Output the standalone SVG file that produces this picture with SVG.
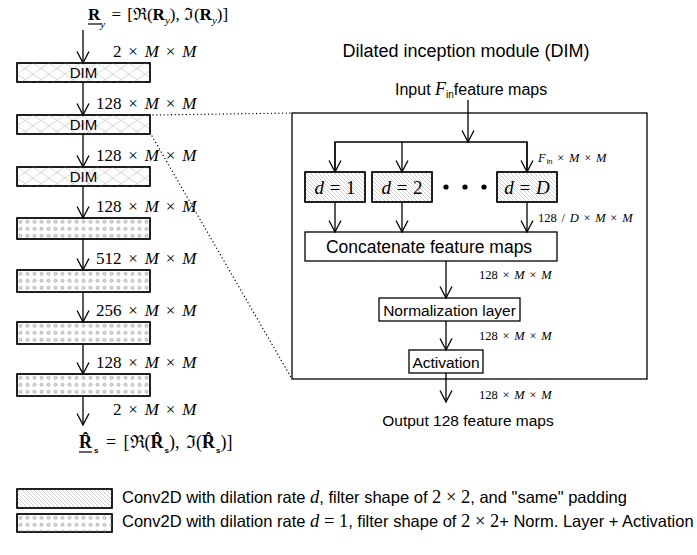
<svg xmlns="http://www.w3.org/2000/svg" width="697" height="555" viewBox="0 0 697 555">
<style>
.box{stroke:#000;stroke-width:1.3}
.sans{font-family:"Liberation Sans",Arial,sans-serif;fill:#000}
.ser{font-family:"Liberation Serif","DejaVu Serif",serif;fill:#000}
.it{font-style:italic}
.bf{font-weight:bold}
.conn{stroke:#000;stroke-width:1.3;fill:none}
.dot{stroke:#000;stroke-width:1.3;stroke-dasharray:0.1 3.6;stroke-linecap:round;fill:none}
.lab{font-size:17px;word-spacing:2.6px}
.slab{font-size:12.5px;word-spacing:1.6px}
</style>
<defs>
<pattern id="cross" patternUnits="userSpaceOnUse" width="16" height="11">
<path d="M0,0 L16,11 M0,11 L16,0" stroke="#c4c4c4" stroke-width="0.7" fill="none"/>
</pattern>
<pattern id="hatch" patternUnits="userSpaceOnUse" width="4" height="4">
<path d="M-1,-1 L5,5 M-1,3 L1,5 M3,-1 L5,1" stroke="#b0b0b0" stroke-width="0.6" fill="none"/>
</pattern>
<pattern id="dots" patternUnits="userSpaceOnUse" width="7" height="7" x="0" y="0">
<circle cx="3.5" cy="3.8" r="1.5" fill="#e0e0e0" stroke="#9a9a9a" stroke-width="0.7"/>
</pattern>
<marker id="arr" markerUnits="userSpaceOnUse" markerWidth="12" markerHeight="12" orient="auto" overflow="visible">
<path d="M-11.5,-6 Q-3,-1.5 0,0 Q-3,1.5 -11.5,6" fill="none" stroke="#000" stroke-width="1.3"/>
</marker>
</defs>

<!-- top formula -->
<g id="formula-in">
<text class="ser" x="88" y="20" font-size="17"><tspan class="bf">R</tspan><tspan class="it" font-size="11" dy="8">y</tspan><tspan dy="-8" word-spacing="2"> = [ℜ(</tspan><tspan class="bf">R</tspan><tspan class="it" font-size="11" dy="4">y</tspan><tspan dy="-4">), ℑ(</tspan><tspan class="bf">R</tspan><tspan class="it" font-size="11" dy="4">y</tspan><tspan dy="-4">)]</tspan></text>
<line x1="88" y1="24" x2="101" y2="24" stroke="#000" stroke-width="1.2"/>
</g>

<!-- left column nodes -->
<g id="dim1" transform="translate(17,63)">
<rect class="box" width="133" height="19" fill="#fff"/><rect width="133" height="19" fill="url(#cross)"/><rect class="box" width="133" height="19" fill="none"/>
<text class="sans" x="66.5" y="15" font-size="15" text-anchor="middle">DIM</text>
</g>
<g id="dim2" transform="translate(17,115)">
<rect class="box" width="133" height="19" fill="#fff"/><rect width="133" height="19" fill="url(#cross)"/><rect class="box" width="133" height="19" fill="none"/>
<text class="sans" x="66.5" y="15" font-size="15" text-anchor="middle">DIM</text>
</g>
<g id="dim3" transform="translate(17,167)">
<rect class="box" width="133" height="19" fill="#fff"/><rect width="133" height="19" fill="url(#cross)"/><rect class="box" width="133" height="19" fill="none"/>
<text class="sans" x="66.5" y="15" font-size="15" text-anchor="middle">DIM</text>
</g>
<g id="conv4" transform="translate(17,218)">
<rect class="box" width="133" height="21" fill="#fff"/><rect width="133" height="21" fill="url(#dots)"/><rect class="box" width="133" height="21" fill="none"/>
</g>
<g id="conv5" transform="translate(17,270)">
<rect class="box" width="133" height="22" fill="#fff"/><rect width="133" height="22" fill="url(#dots)"/><rect class="box" width="133" height="22" fill="none"/>
</g>
<g id="conv6" transform="translate(17,322)">
<rect class="box" width="133" height="22" fill="#fff"/><rect width="133" height="22" fill="url(#dots)"/><rect class="box" width="133" height="22" fill="none"/>
</g>
<g id="conv7" transform="translate(17,374)">
<rect class="box" width="133" height="22" fill="#fff"/><rect width="133" height="22" fill="url(#dots)"/><rect class="box" width="133" height="22" fill="none"/>
</g>

<!-- bottom formula -->
<g id="formula-out">
<text class="ser" x="79" y="448" font-size="18"><tspan class="bf">R̂</tspan><tspan class="sans bf" font-size="8" dx="2" dy="5">s</tspan><tspan dy="-5" word-spacing="3"> = [ℜ(</tspan><tspan class="bf">R̂</tspan><tspan class="sans bf" font-size="8" dx="1" dy="5">s</tspan><tspan dy="-5" word-spacing="2">), ℑ(</tspan><tspan class="bf">R̂</tspan><tspan class="sans bf" font-size="8" dx="1" dy="5">s</tspan><tspan dy="-5">)]</tspan></text>
<line x1="79" y1="452" x2="92" y2="452" stroke="#000" stroke-width="1.2"/>
</g>

<!-- DIM detail -->
<g id="title"><text class="sans" x="466" y="57" font-size="18" text-anchor="middle">Dilated inception module (DIM)</text></g>
<g id="input"><text class="sans" x="395" y="95" font-size="16">Input <tspan class="ser it" font-size="18">F</tspan><tspan font-size="10" dy="3">in</tspan><tspan dy="-3">feature maps</tspan></text></g>
<g id="dim-frame"><rect class="box" x="292" y="113" width="355" height="266" fill="none"/></g>

<g id="d1" transform="translate(305,172)">
<rect class="box" width="60" height="30" fill="#fff"/><rect width="60" height="30" fill="url(#hatch)"/><rect class="box" width="60" height="30" fill="none"/>
<text class="ser" x="30" y="21.5" font-size="19" word-spacing="1" text-anchor="middle"><tspan class="it">d</tspan> = 1</text>
</g>
<g id="d2" transform="translate(372,172)">
<rect class="box" width="60" height="30" fill="#fff"/><rect width="60" height="30" fill="url(#hatch)"/><rect class="box" width="60" height="30" fill="none"/>
<text class="ser" x="30" y="21.5" font-size="19" word-spacing="1" text-anchor="middle"><tspan class="it">d</tspan> = 2</text>
</g>
<g id="ellipsis">
<circle cx="446" cy="187" r="2.6" fill="#000"/><circle cx="465" cy="187" r="2.6" fill="#000"/><circle cx="484" cy="187" r="2.6" fill="#000"/>
</g>
<g id="dD" transform="translate(497,172)">
<rect class="box" width="60" height="30" fill="#fff"/><rect width="60" height="30" fill="url(#hatch)"/><rect class="box" width="60" height="30" fill="none"/>
<text class="ser" x="30" y="21.5" font-size="19" word-spacing="1" text-anchor="middle"><tspan class="it">d</tspan> = <tspan class="it">D</tspan></text>
</g>
<g id="concat">
<rect class="box" x="305" y="232" width="252" height="29" fill="#fff"/>
<text class="sans" x="429" y="252.5" font-size="17.5" text-anchor="middle">Concatenate feature maps</text>
</g>
<g id="norm">
<rect class="box" x="379" y="298" width="141" height="23" fill="#fff"/>
<text class="sans" x="449.5" y="315.5" font-size="15.5" text-anchor="middle">Normalization layer</text>
</g>
<g id="act">
<rect class="box" x="409" y="350" width="74" height="23" fill="#fff"/>
<text class="sans" x="446" y="367.5" font-size="15.5" text-anchor="middle">Activation</text>
</g>
<g id="output"><text class="sans" x="468" y="426" font-size="15.5" text-anchor="middle">Output 128 feature maps</text></g>

<!-- connectors -->
<g id="connectors">
<line class="conn" x1="83" y1="30" x2="83" y2="63" marker-end="url(#arr)"/>
<line class="conn" x1="83" y1="82" x2="83" y2="115" marker-end="url(#arr)"/>
<line class="conn" x1="83" y1="134" x2="83" y2="167" marker-end="url(#arr)"/>
<line class="conn" x1="83" y1="186" x2="83" y2="218" marker-end="url(#arr)"/>
<line class="conn" x1="83" y1="239" x2="83" y2="270" marker-end="url(#arr)"/>
<line class="conn" x1="83" y1="292" x2="83" y2="322" marker-end="url(#arr)"/>
<line class="conn" x1="83" y1="344" x2="83" y2="374" marker-end="url(#arr)"/>
<line class="conn" x1="83" y1="396" x2="83" y2="425" marker-end="url(#arr)"/>
<line class="dot" x1="153" y1="115" x2="292" y2="113"/>
<line class="dot" x1="152" y1="136" x2="292" y2="379"/>
<line class="conn" x1="468" y1="100" x2="468" y2="142" marker-end="url(#arr)"/>
<polyline class="conn" points="335,172 335,142 527,142 527,172"/>
<line class="conn" x1="335" y1="142" x2="335" y2="172" marker-end="url(#arr)"/>
<line class="conn" x1="402" y1="142" x2="402" y2="172" marker-end="url(#arr)"/>
<line class="conn" x1="527" y1="142" x2="527" y2="172" marker-end="url(#arr)"/>
<line class="conn" x1="335" y1="202" x2="335" y2="232" marker-end="url(#arr)"/>
<line class="conn" x1="402" y1="202" x2="402" y2="232" marker-end="url(#arr)"/>
<line class="conn" x1="527" y1="202" x2="527" y2="232" marker-end="url(#arr)"/>
<line class="conn" x1="446" y1="261" x2="446" y2="298" marker-end="url(#arr)"/>
<line class="conn" x1="446" y1="321" x2="446" y2="350" marker-end="url(#arr)"/>
<line class="conn" x1="446" y1="373" x2="446" y2="402" marker-end="url(#arr)"/>
</g>

<!-- connector labels -->
<g id="labels">
<text class="ser lab" x="113" y="57">2 × <tspan class="it">M</tspan> × <tspan class="it">M</tspan></text>
<text class="ser lab" x="96" y="109">128 × <tspan class="it">M</tspan> × <tspan class="it">M</tspan></text>
<text class="ser lab" x="96" y="161">128 × <tspan class="it">M</tspan> × <tspan class="it">M</tspan></text>
<text class="ser lab" x="96" y="212">128 × <tspan class="it">M</tspan> × <tspan class="it">M</tspan></text>
<text class="ser lab" x="96" y="264">512 × <tspan class="it">M</tspan> × <tspan class="it">M</tspan></text>
<text class="ser lab" x="96" y="316">256 × <tspan class="it">M</tspan> × <tspan class="it">M</tspan></text>
<text class="ser lab" x="96" y="368">128 × <tspan class="it">M</tspan> × <tspan class="it">M</tspan></text>
<text class="ser lab" x="113" y="415">2 × <tspan class="it">M</tspan> × <tspan class="it">M</tspan></text>
<text class="ser slab" x="538" y="162"><tspan class="it">F</tspan><tspan class="sans" font-size="7.5" dx="1" dy="2">in</tspan><tspan dy="-2"> × </tspan><tspan class="it">M</tspan> × <tspan class="it">M</tspan></text>
<text class="ser slab" x="538" y="222">128 / <tspan class="it">D</tspan> × <tspan class="it">M</tspan> × <tspan class="it">M</tspan></text>
<text class="ser slab" x="479" y="279">128 × <tspan class="it">M</tspan> × <tspan class="it">M</tspan></text>
<text class="ser slab" x="479" y="340">128 × <tspan class="it">M</tspan> × <tspan class="it">M</tspan></text>
<text class="ser slab" x="479" y="399">128 × <tspan class="it">M</tspan> × <tspan class="it">M</tspan></text>
</g>

<!-- legend -->
<g id="legend-hatch" transform="translate(17,489)">
<rect class="box" width="95" height="19" fill="#fff"/><rect width="95" height="19" fill="url(#hatch)"/><rect class="box" width="95" height="19" fill="none"/>
</g>
<g id="legend-hatch-text"><text class="sans" x="122" y="503" font-size="16.5">Conv2D with dilation rate <tspan class="ser it" font-size="18.5">d</tspan>, filter shape of <tspan class="ser" font-size="18.5">2 × 2</tspan>, and "same" padding</text></g>
<g id="legend-dots" transform="translate(17,514)">
<rect class="box" width="95" height="18" fill="#fff"/><rect width="95" height="18" fill="url(#dots)"/><rect class="box" width="95" height="18" fill="none"/>
</g>
<g id="legend-dots-text"><text class="sans" x="122" y="527" font-size="16.5">Conv2D with dilation rate <tspan class="ser" font-size="18.5"><tspan class="it">d</tspan> = 1</tspan>, filter shape of <tspan class="ser" font-size="18.5">2 × 2</tspan>+ Norm. Layer + Activation</text></g>
</svg>
